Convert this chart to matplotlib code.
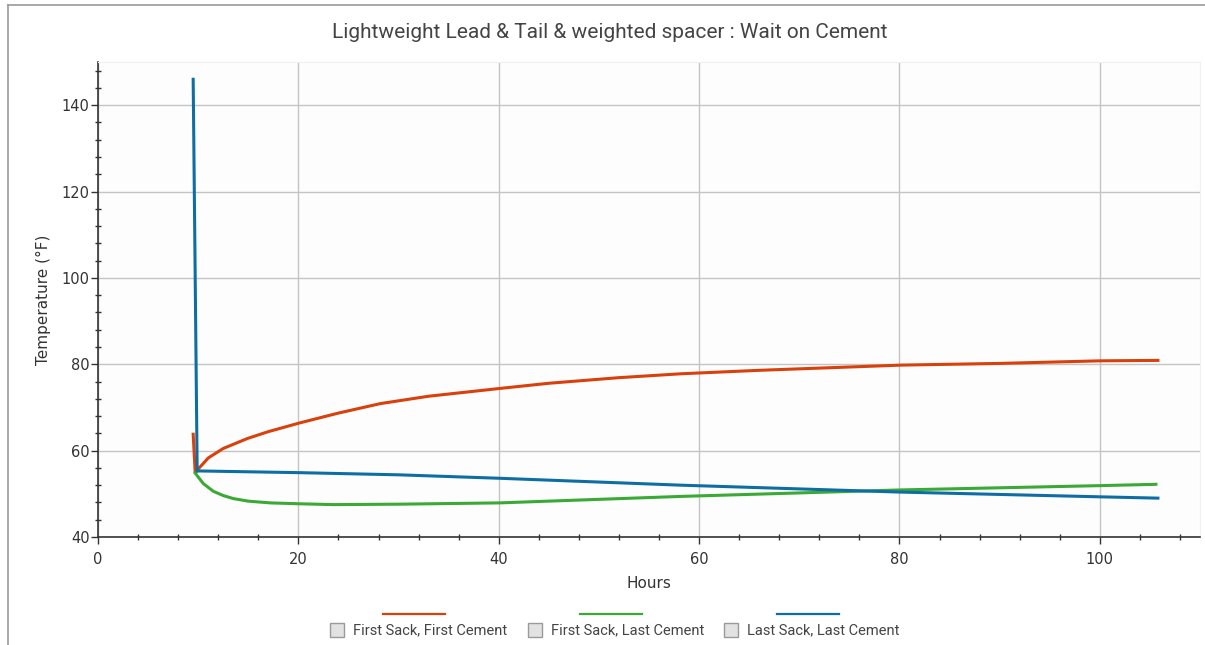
import matplotlib
matplotlib.use("Agg")
import matplotlib.pyplot as plt
from matplotlib.lines import Line2D
from matplotlib.patches import Rectangle
from matplotlib.ticker import MultipleLocator

# values
first_first_hours = [9.5, 9.7, 10.5, 11.0, 12.5, 14.9, 17.0, 20.1, 24.0, 28.2, 33.0, 40.1,
                     45.0, 52.0, 58.2, 66.0, 80.1, 90.0, 100.1, 105.8]
first_first_temp = [63.8, 55.0, 57.0, 58.3, 60.5, 62.8, 64.4, 66.4, 68.7, 70.9, 72.6, 74.4,
                    75.6, 76.9, 77.8, 78.6, 79.8, 80.2, 80.8, 80.9]

first_last_hours = [9.7, 10.5, 11.5, 12.5, 13.5, 15.0, 17.2, 20.0, 23.5, 30.0, 40.1, 58.2,
                    80.1, 100.1, 105.6]
first_last_temp = [54.8, 52.4, 50.6, 49.6, 48.9, 48.3, 47.9, 47.7, 47.5, 47.6, 47.9, 49.4,
                   50.9, 51.9, 52.2]

last_last_hours = [9.5, 9.9, 10.0, 20.1, 30.0, 40.1, 58.2, 80.1, 100.1, 105.8]
last_last_temp = [146.0, 55.2, 55.3, 54.9, 54.4, 53.6, 52.0, 50.4, 49.3, 49.0]

series_names = ["First Sack, First Cement", "First Sack, Last Cement", "Last Sack, Last Cement"]
series_colors = ["#d8400c", "#3aa935", "#0e6ea4"]

title = "Lightweight Lead & Tail & weighted spacer : Wait on Cement"

plt.rcParams["font.family"] = ["DejaVu Sans"]

fig = plt.figure(figsize=(12.05, 6.45), dpi=100)
ax = fig.add_axes([98 / 1205, 108 / 645, 1102 / 1205, 475 / 645])
ax.set_facecolor("#fdfdfd")

ax.plot(first_first_hours, first_first_temp, color=series_colors[0], lw=2.2, zorder=3)
ax.plot(first_last_hours, first_last_temp, color=series_colors[1], lw=2.2, zorder=3)
ax.plot(last_last_hours, last_last_temp, color=series_colors[2], lw=2.2, zorder=4)

ax.set_xlim(0, 110)
ax.set_ylim(40, 150)
ax.xaxis.set_major_locator(MultipleLocator(20))
ax.xaxis.set_minor_locator(MultipleLocator(4))
ax.yaxis.set_major_locator(MultipleLocator(20))
ax.yaxis.set_minor_locator(MultipleLocator(4))
ax.grid(True, which="major", color="#c4c4c4", lw=1.0)
ax.set_axisbelow(True)

for side in ["top", "right"]:
    ax.spines[side].set_color("#f0f0f0")
for side in ["left", "bottom"]:
    ax.spines[side].set_color("#333333")
    ax.spines[side].set_linewidth(1.2)

ax.tick_params(which="major", length=5, width=1, color="#333333", labelsize=10.5,
               labelcolor="#333333", direction="out")
ax.tick_params(which="minor", length=4, width=1, color="#333333", direction="inout")
ax.tick_params(axis="x", pad=6)
ax.tick_params(axis="y", pad=1)

ax.set_xlabel("Hours", fontsize=11, color="#333333", labelpad=6)
ax.set_ylabel("Temperature (°F)", fontsize=11, color="#333333", labelpad=8)

fig.text(610 / 1205, 1 - 33 / 645, title, ha="center", va="center", fontsize=15,
         color="#444444", family=["Liberation Sans Narrow", "Roboto", "DejaVu Sans"])

# legend: colour line above a checkbox + label
box_x = [330, 528, 724]
line_x = [383, 580, 777]
for name, col, bx, lx in zip(series_names, series_colors, box_x, line_x):
    fig.add_artist(Line2D([lx / 1205, (lx + 62) / 1205], [1 - 614 / 645, 1 - 614 / 645],
                          color=col, lw=1.6, transform=fig.transFigure))
    fig.add_artist(Rectangle((bx / 1205, 1 - 637 / 645), 14 / 1205, 14 / 645,
                             transform=fig.transFigure, facecolor="#e2e2e2",
                             edgecolor="#9a9a9a", lw=1))
    fig.text((bx + 23) / 1205, 1 - 630 / 645, name, ha="left", va="center", fontsize=10.5,
             color="#444444", family=["Liberation Sans Narrow", "Roboto", "DejaVu Sans"])

# outer frame (left and top edges visible in the reference)
fig.add_artist(Line2D([8 / 1205, 8 / 1205], [0, 1 - 5 / 645], color="#9a9a9a", lw=1.2,
                      transform=fig.transFigure))
fig.add_artist(Line2D([8 / 1205, 1], [1 - 5 / 645, 1 - 5 / 645], color="#9a9a9a", lw=1.2,
                      transform=fig.transFigure))

fig.savefig("out.png", dpi=100)
